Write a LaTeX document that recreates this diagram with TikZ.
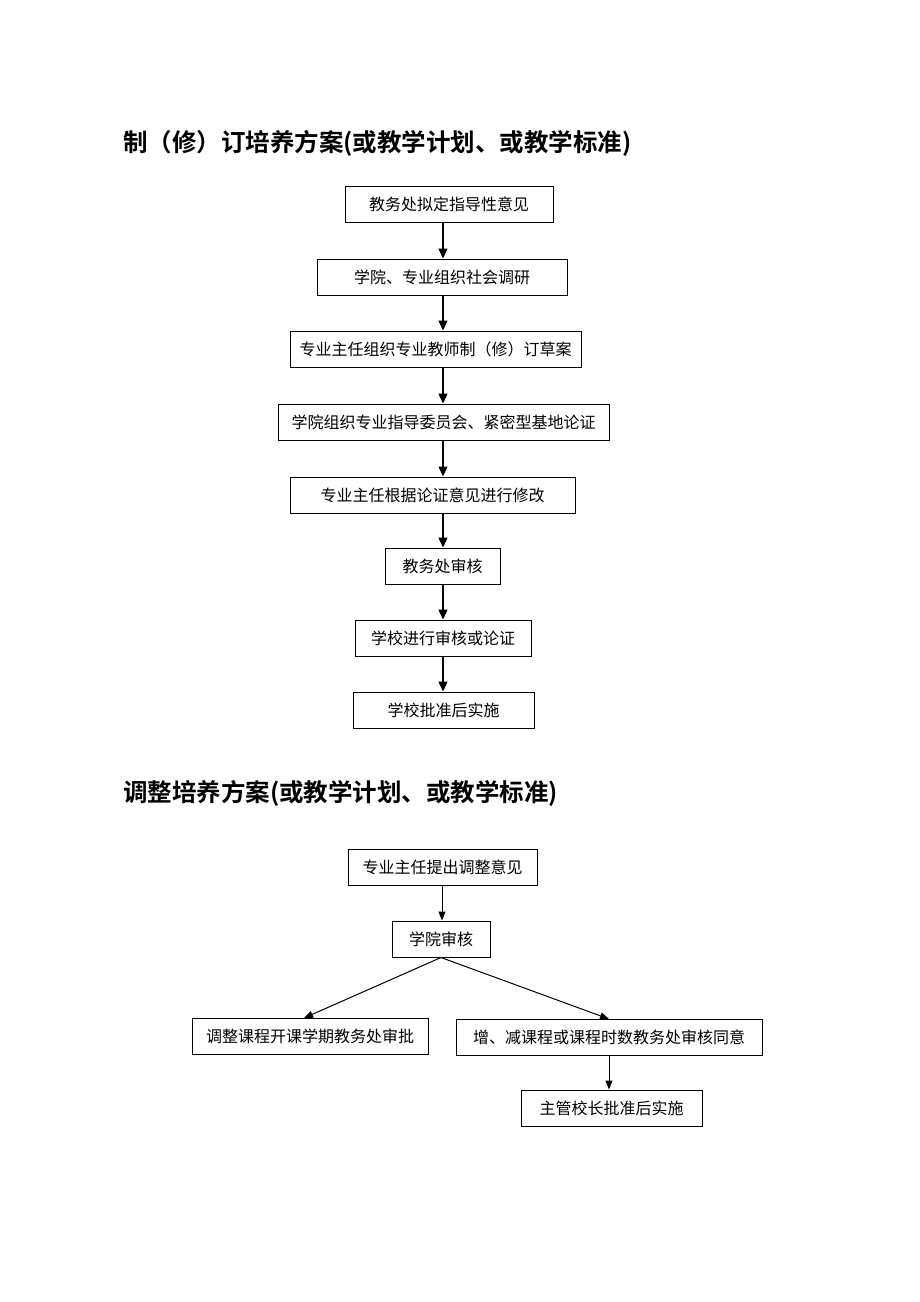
\documentclass[tikz,border=0pt]{standalone}
\usepackage{fontspec}
\setmainfont{Noto Sans CJK SC}
\newfontfamily\cjk{Noto Sans CJK SC}
\newfontfamily\cjkbold{Noto Sans CJK SC Bold}
\usetikzlibrary{arrows.meta}
\begin{document}
\begin{tikzpicture}[x=1pt,y=-1pt,
  box/.style={draw,line width=1pt,minimum height=36pt,inner sep=0pt,font=\cjk\fontsize{16}{19}\selectfont},
  arr/.style={line width=1.4pt,-{Triangle[length=10pt,width=9pt]}},
  arrs/.style={line width=1pt,-{Triangle[length=9pt,width=7pt]}},
  ttl/.style={anchor=west,inner sep=0pt,font=\cjkbold\fontsize{24.5}{28}\selectfont}]
\useasboundingbox (0,0) rectangle (920,1302);
\node[ttl] (t1) at (123,143) {制（修）订培养方案(或教学计划、或教学标准)};
\node[box,minimum width=208pt] (a1) at (449,204) {教务处拟定指导性意见};
\node[box,minimum width=250pt] (a2) at (442,277) {学院、专业组织社会调研};
\node[box,minimum width=291pt] (a3) at (435.5,349) {专业主任组织专业教师制（修）订草案};
\node[box,minimum width=331pt] (a4) at (443.5,422) {学院组织专业指导委员会、紧密型基地论证};
\node[box,minimum width=285pt] (a5) at (432.5,495) {专业主任根据论证意见进行修改};
\node[box,minimum width=115pt] (a6) at (442.5,566) {教务处审核};
\node[box,minimum width=176pt] (a7) at (443,638) {学校进行审核或论证};
\node[box,minimum width=181pt] (a8) at (443.5,710) {学校批准后实施};
\coordinate (c1) at (443,222);
\coordinate (c2) at (443,295);
\coordinate (c3) at (443,367);
\coordinate (c4) at (443,440);
\coordinate (c5) at (443,513);
\coordinate (c6) at (443,584);
\coordinate (c7) at (443,656);
\draw[arr] (c1) -- (c1 |- a2.north);
\draw[arr] (c2) -- (c2 |- a3.north);
\draw[arr] (c3) -- (c3 |- a4.north);
\draw[arr] (c4) -- (c4 |- a5.north);
\draw[arr] (c5) -- (c5 |- a6.north);
\draw[arr] (c6) -- (c6 |- a7.north);
\draw[arr] (c7) -- (c7 |- a8.north);
\node[ttl] (t2) at (123,793) {调整培养方案(或教学计划、或教学标准)};
\node[box,minimum width=189pt] (b1) at (442.5,867) {专业主任提出调整意见};
\node[box,minimum width=98pt] (b2) at (441,939) {学院审核};
\node[box,minimum width=236pt] (b3) at (310,1036) {调整课程开课学期教务处审批};
\node[box,minimum width=306pt] (b4) at (609,1037) {增、减课程或课程时数教务处审核同意};
\node[box,minimum width=181pt] (b5) at (611.5,1108) {主管校长批准后实施};
\coordinate (d1) at (442,885);
\coordinate (d3) at (304,1018);
\coordinate (d4) at (609,1019);
\coordinate (d5) at (609,1055);
\draw[arrs] (d1) -- (d1 |- b2.north);
\draw[arrs] (b2.south) -- (d3);
\draw[arrs] (b2.south) -- (d4);
\draw[arrs] (d5) -- (d5 |- b5.north);
\end{tikzpicture}
\end{document}
